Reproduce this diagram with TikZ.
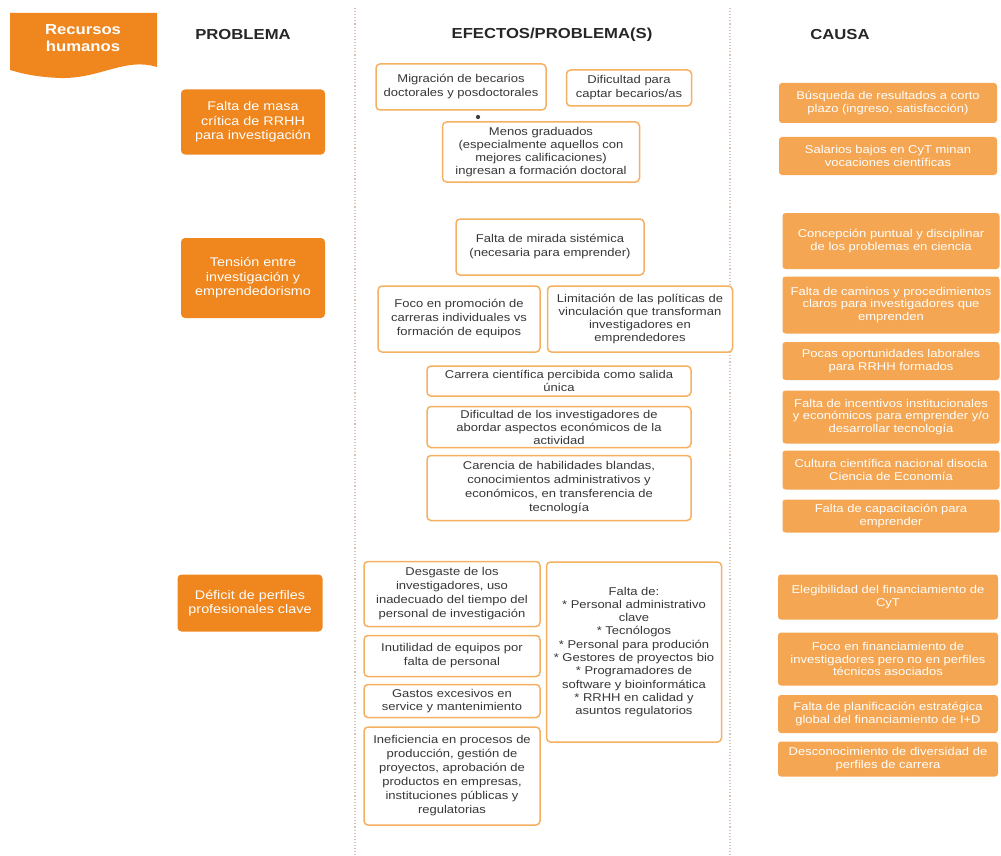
\documentclass[tikz,border=0pt]{standalone}
\usepackage{fontspec}
\setmainfont{Liberation Sans}[FakeStretch=1.15]
\definecolor{probC}{RGB}{239,134,30}
\definecolor{causeC}{RGB}{244,166,82}
\definecolor{effB}{RGB}{245,176,98}
\definecolor{txtC}{RGB}{55,55,55}
\definecolor{sepC}{RGB}{215,195,185}
\newcommand\myBody{\fontsize{11.3}{14}\selectfont}
\newcommand\myCause{\fontsize{11.3}{12.8}\selectfont}
\newcommand\myProb{\fontsize{12.5}{14.5}\selectfont}
\newcommand\myHdr{\fontsize{14.5}{17.5}\selectfont\bfseries}
\tikzset{
  prob/.style={fill=probC, rounded corners=4pt, text=white, font=\myProb, align=center, inner sep=0pt},
  eff/.style={draw=effB, line width=1.5pt, fill=white, rounded corners=4pt, text=txtC, font=\myBody, align=center, inner sep=0pt},
  cause/.style={fill=causeC, rounded corners=3pt, text=white, font=\myCause, align=center, inner sep=0pt},
  hdr/.style={font=\myHdr, text=black!85},
  sepline/.style={draw=sepC, line width=1.1pt, dotted}
}
\begin{document}
\begin{tikzpicture}[x=1pt,y=-1pt]
\useasboundingbox (0,0) rectangle (1001,856);
% banner
\fill[probC] (10,13) -- (157,13) -- (157,67) .. controls (125,57) and (100,79) .. (60,78) .. controls (35,77) and (20,73) .. (10,70) -- cycle;
\node[font=\myHdr, text=white, align=center] (ban) at (83,38) {Recursos\\humanos};
% separators
\draw[sepline] (355,8) -- (355,856);
\draw[sepline] (730,8) -- (730,856);
% headers
\node[hdr] (h1) at (243,35) {PROBLEMA};
\node[hdr] (h2) at (552,35) {EFECTOS/PROBLEMA(S)};
\node[hdr] (h3) at (840,35) {CAUSA};
% problems
\node[prob, minimum width=144pt, minimum height=65pt] (p1) at (253,122) {Falta de masa\\crítica de RRHH\\para investigación};
\node[prob, minimum width=144pt, minimum height=80pt] (p2) at (253,278) {Tensión entre\\investigación y\\emprendedorismo};
\node[prob, minimum width=145pt, minimum height=57pt] (p3) at (250,603) {Déficit de perfiles\\profesionales clave};
% effects
\node[eff, minimum width=170pt, minimum height=46pt] (e1) at (461,87) {Migración de becarios\\doctorales y posdoctorales};
\node[eff, minimum width=125pt, minimum height=36pt] (e2) at (629,88) {Dificultad para\\captar becarios/as};
\node[circle, fill=black!75, inner sep=1.5pt] (dot) at (478,117) {};
\node[eff, minimum width=197pt, minimum height=60pt, font=\fontsize{11.3}{12.8}\selectfont] (e3) at (541,152) {Menos graduados\\(especialmente aquellos con\\mejores calificaciones)\\ingresan a formación doctoral};
\node[eff, minimum width=188pt, minimum height=56pt] (e4) at (550,247) {Falta de mirada sistémica\\(necesaria para emprender)};
\node[eff, minimum width=162pt, minimum height=66pt] (e5) at (459,319) {Foco en promoción de\\carreras individuales vs\\formación de equipos};
\node[eff, minimum width=185pt, minimum height=66pt, font=\fontsize{11.3}{13.3}\selectfont] (e6) at (640,319) {Limitación de las políticas de\\vinculación que transforman\\investigadores en\\emprendedores};
\node[eff, minimum width=264pt, minimum height=30pt, font=\fontsize{11.3}{12.5}\selectfont] (e7) at (559,381) {Carrera científica percibida como salida\\única};
\node[eff, minimum width=264pt, minimum height=41pt, font=\fontsize{11.3}{13}\selectfont] (e8) at (559,427) {Dificultad de los investigadores de\\abordar aspectos económicos de la\\actividad};
\node[eff, minimum width=264pt, minimum height=65pt] (e9) at (559,488) {Carencia de habilidades blandas,\\conocimientos administrativos y\\económicos, en transferencia de\\tecnología};
\node[eff, minimum width=176pt, minimum height=65pt] (e10) at (452,594) {Desgaste de los\\investigadores, uso\\inadecuado del tiempo del\\personal de investigación};
\node[eff, minimum width=176pt, minimum height=41pt] (e11) at (452,656) {Inutilidad de equipos por\\falta de personal};
\node[eff, minimum width=176pt, minimum height=33pt, font=\fontsize{11.3}{13}\selectfont] (e12) at (452,701) {Gastos excesivos en\\service y mantenimiento};
\node[eff, minimum width=176pt, minimum height=98pt] (e13) at (452,776) {Ineficiencia en procesos de\\producción, gestión de\\proyectos, aprobación de\\productos en empresas,\\instituciones públicas y\\regulatorias};
\node[eff, minimum width=175pt, minimum height=180pt, font=\fontsize{11.3}{13.3}\selectfont] (e14) at (634,652) {Falta de:\\* Personal administrativo\\clave\\* Tecnólogos\\* Personal para produción\\* Gestores de proyectos bio\\* Programadores de\\software y bioinformática\\* RRHH en calidad y\\asuntos regulatorios};
% causes
\node[cause, minimum width=218pt, minimum height=40pt] (c1) at (888,103) {Búsqueda de resultados a corto\\plazo (ingreso, satisfacción)};
\node[cause, minimum width=218pt, minimum height=38pt] (c2) at (888,156) {Salarios bajos en CyT minan\\vocaciones científicas};
\node[cause, minimum width=217pt, minimum height=56pt] (c3) at (891,241) {Concepción puntual y disciplinar\\de los problemas en ciencia};
\node[cause, minimum width=217pt, minimum height=57pt] (c4) at (891,305) {Falta de caminos y procedimientos\\claros para investigadores que\\emprenden};
\node[cause, minimum width=217pt, minimum height=38pt] (c5) at (891,361) {Pocas oportunidades laborales\\para RRHH formados};
\node[cause, minimum width=217pt, minimum height=53pt] (c6) at (891,417) {Falta de incentivos institucionales\\y económicos para emprender y/o\\desarrollar tecnología};
\node[cause, minimum width=217pt, minimum height=39pt] (c7) at (891,470) {Cultura científica nacional disocia\\Ciencia de Economía};
\node[cause, minimum width=217pt, minimum height=33pt] (c8) at (891,516) {Falta de capacitación para\\emprender};
\node[cause, minimum width=220pt, minimum height=45pt] (c9) at (888,597) {Elegibilidad del financiamiento de\\CyT};
\node[cause, minimum width=220pt, minimum height=53pt] (c10) at (888,659) {Foco en financiamiento de\\investigadores pero no en perfiles\\técnicos asociados};
\node[cause, minimum width=220pt, minimum height=38pt] (c11) at (888,714) {Falta de planificación estratégica\\global del financiamiento de I+D};
\node[cause, minimum width=220pt, minimum height=35pt] (c12) at (888,759) {Desconocimiento de diversidad de\\perfiles de carrera};
\end{tikzpicture}
\end{document}
